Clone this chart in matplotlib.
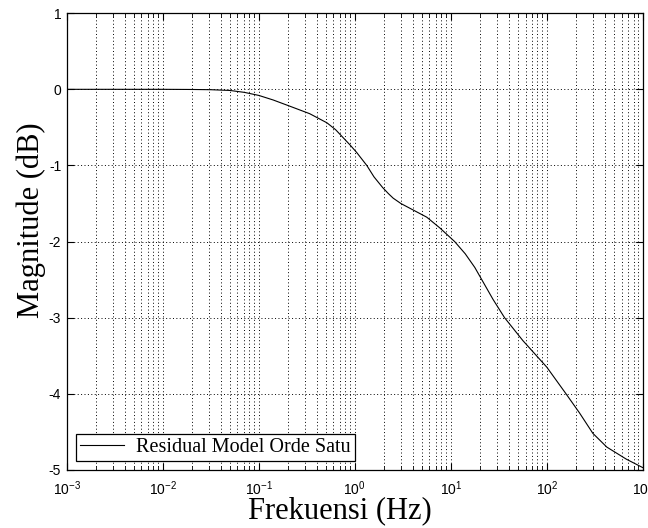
import numpy as np
import matplotlib.pyplot as plt
from matplotlib.ticker import LogLocator, NullFormatter, FixedLocator

plt.rcParams['axes.unicode_minus'] = False
plt.rcParams['mathtext.fontset'] = 'custom'
plt.rcParams['mathtext.rm'] = 'Liberation Sans'
plt.rcParams['mathtext.it'] = 'Liberation Sans'
plt.rcParams['mathtext.bf'] = 'Liberation Sans'

# data (log10 of frequency in Hz, magnitude in dB)
log_freq = [-3.0, -2.5, -2.0, -1.7, -1.5, -1.3, -1.15, -1.0, -0.85, -0.68, -0.47,
            -0.29, -0.2, -0.125, -0.05, 0.02, 0.125, 0.2, 0.29, 0.35, 0.40, 0.48,
            0.57, 0.75, 0.885, 1.04, 1.15, 1.25, 1.44, 1.56, 1.75, 2.0, 2.2,
            2.34, 2.48, 2.625, 2.83, 3.0]
magnitude = [0.0, 0.0, 0.0, -0.002, -0.005, -0.015, -0.04, -0.08, -0.14, -0.22, -0.32,
             -0.44, -0.53, -0.63, -0.73, -0.83, -1.0, -1.15, -1.29, -1.37, -1.43, -1.5,
             -1.56, -1.68, -1.82, -2.0, -2.16, -2.34, -2.76, -3.0, -3.3, -3.65, -4.0,
             -4.25, -4.52, -4.7, -4.86, -4.97]
freq = [10 ** v for v in log_freq]

series_label = 'Residual Model Orde Satu'
xlabel = 'Frekuensi (Hz)'
ylabel = 'Magnitude (dB)'

fig = plt.figure(figsize=(6.48, 5.28), dpi=100)
ax = fig.add_axes([0.103, 0.110, 0.889, 0.865])

ax.semilogx(freq, magnitude, color='black', linewidth=0.8, label=series_label)

ax.set_xlim(1e-3, 1e3)
ax.set_ylim(-5, 1)
ax.xaxis.set_major_locator(LogLocator(base=10, numticks=10))
ax.xaxis.set_minor_locator(LogLocator(base=10, subs=np.arange(2, 10), numticks=100))
ax.xaxis.set_minor_formatter(NullFormatter())
ax.yaxis.set_major_locator(FixedLocator([-5, -4, -3, -2, -1, 0, 1]))

grid_style = dict(color='black', linestyle=(0, (1, 2.5)), linewidth=0.7)
ax.grid(True, which='major', axis='both', **grid_style)
ax.grid(True, which='minor', axis='x', **grid_style)

ax.tick_params(which='both', direction='in', top=True, right=True,
               labelsize=10, labelfontfamily='Liberation Sans')
ax.tick_params(which='major', length=5)
ax.tick_params(which='minor', length=3)
ax.tick_params(axis='x', which='major', pad=7)
ax.tick_params(axis='y', which='major', pad=4)
for s in ax.spines.values():
    s.set_linewidth(0.9)

ax.set_xlabel(xlabel, fontsize=22, family='Liberation Serif')
ax.set_ylabel(ylabel, fontsize=22, family='Liberation Serif')
ax.xaxis.set_label_coords(0.474, -0.058)
ax.yaxis.set_label_coords(-0.036, 0.547)

leg = ax.legend(loc='lower left', prop={'family': 'Liberation Serif', 'size': 14.5},
                fancybox=False, framealpha=1, edgecolor='black',
                handlelength=2.2, handletextpad=0.6, borderpad=0.2, borderaxespad=0.45)
leg.get_frame().set_linewidth(0.9)

fig.savefig('out.png', dpi=100)
